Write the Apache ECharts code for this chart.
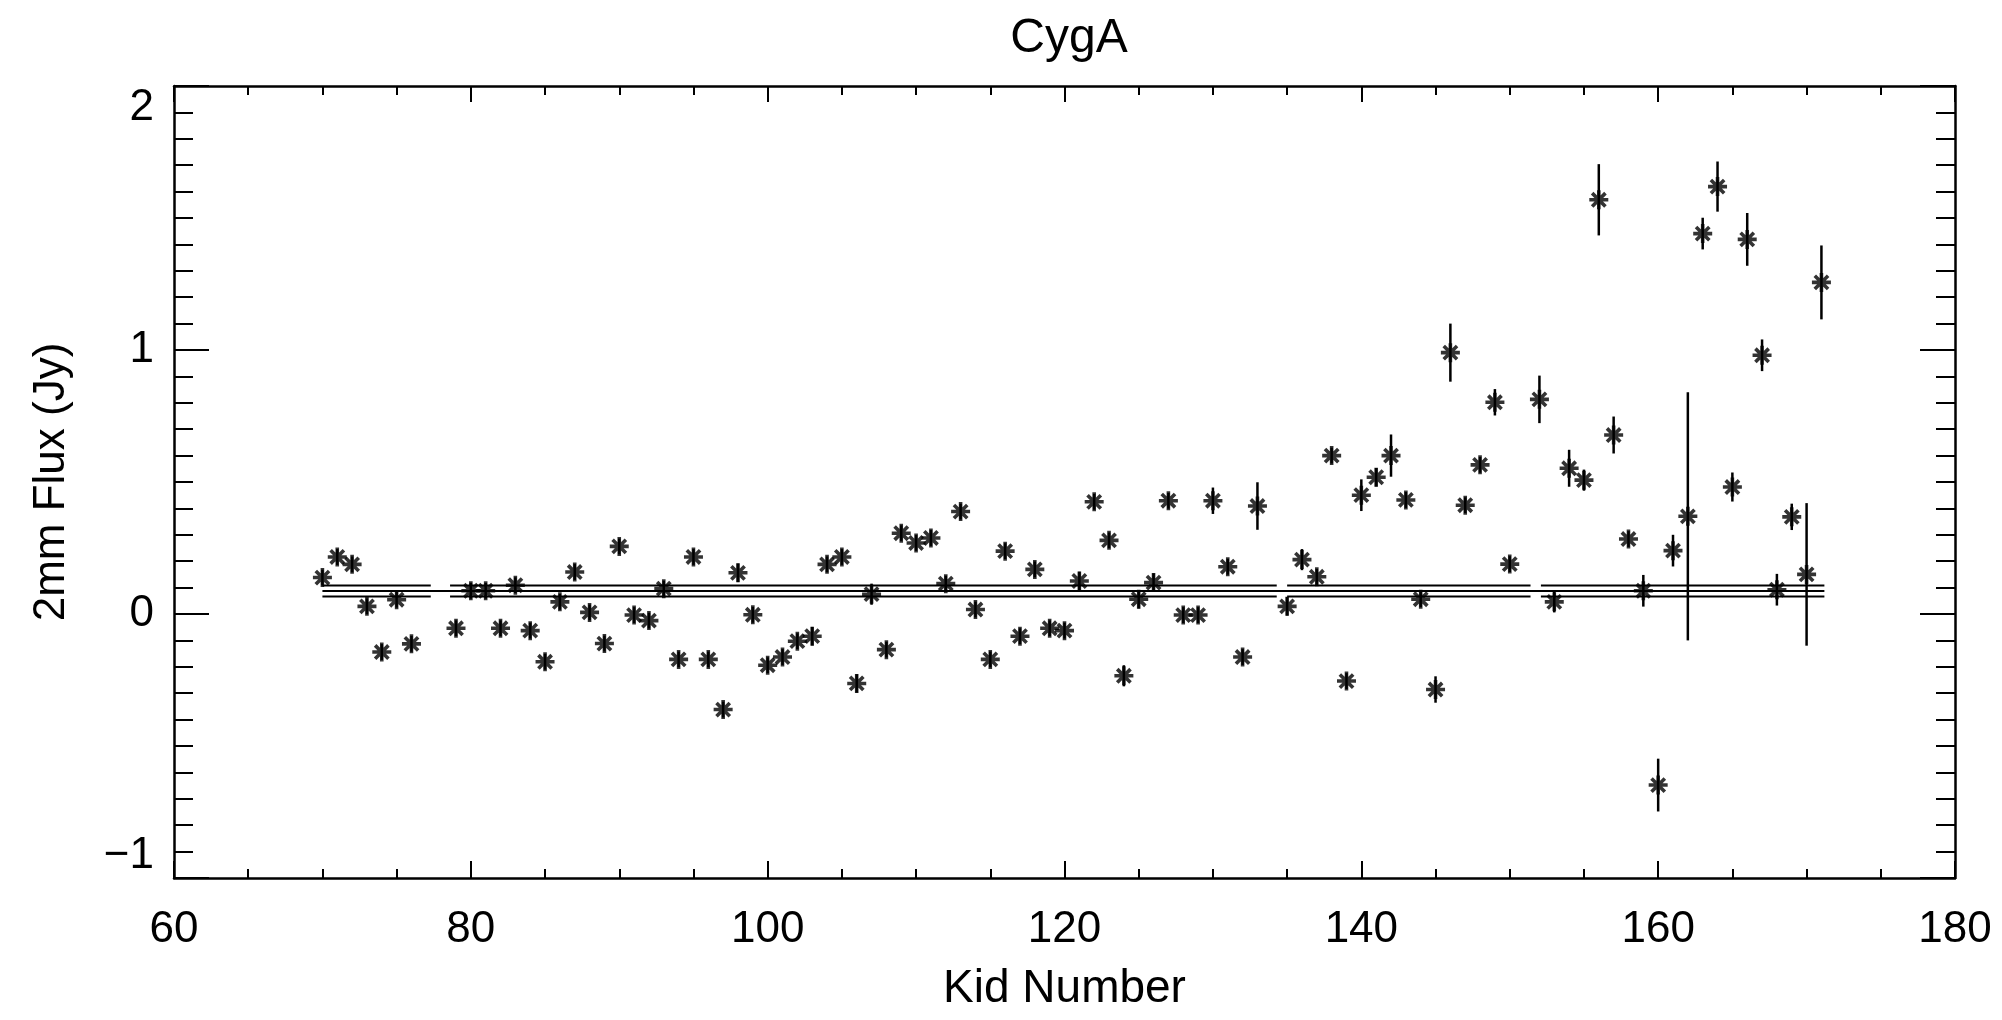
<!DOCTYPE html>
<html>
<head>
<meta charset="utf-8">
<script src="https://cdn.jsdelivr.net/npm/echarts@6/dist/echarts.min.js"></script>
<style>
  html, body { margin: 0; padding: 0; background: #fff; }
  #chart { width: 2002px; height: 1020px; }
</style>
</head>
<body>
<div id="chart"></div>
<script>
// ---- data ----
const kids = [70,71,72,73,74,75,76,
  79,80,81,82,83,84,85,86,87,88,89,90,91,92,93,94,95,96,97,98,99,100,
  101,102,103,104,105,106,107,108,109,110,111,112,113,114,115,116,117,118,119,120,
  121,122,123,124,125,126,127,128,129,130,131,132,133,
  135,136,137,138,139,140,141,142,143,144,145,146,147,148,149,150,
  152,153,154,155,156,157,158,159,160,161,162,163,164,165,166,167,168,169,170,171];
const flux = [0.138,0.216,0.188,0.029,-0.144,0.054,-0.113,
  -0.054,0.088,0.088,-0.054,0.109,-0.063,-0.181,0.046,0.159,0.006,-0.112,0.256,-0.004,-0.025,0.096,-0.172,0.216,-0.172,-0.362,0.156,-0.003,-0.194,
  -0.163,-0.103,-0.084,0.188,0.216,-0.263,0.075,-0.135,0.306,0.269,0.288,0.115,0.388,0.017,-0.172,0.238,-0.084,0.169,-0.054,-0.063,
  0.125,0.425,0.279,-0.234,0.056,0.119,0.429,-0.004,-0.004,0.429,0.179,-0.163,0.409,
  0.029,0.206,0.141,0.600,-0.254,0.450,0.518,0.600,0.432,0.056,-0.286,0.990,0.412,0.565,0.802,0.189,
  0.813,0.046,0.552,0.507,1.569,0.678,0.284,0.088,-0.648,0.240,0.370,1.441,1.619,0.481,1.419,0.980,0.092,0.368,0.150,1.256];
const fluxErr = [0.03,0.03,0.03,0.03,0.03,0.03,0.03,
  0.03,0.03,0.03,0.03,0.03,0.03,0.03,0.03,0.03,0.03,0.03,0.03,0.03,0.03,0.03,0.03,0.03,0.03,0.03,0.035,0.03,0.03,
  0.03,0.03,0.035,0.03,0.03,0.035,0.04,0.03,0.03,0.03,0.03,0.03,0.03,0.03,0.03,0.03,0.03,0.03,0.03,0.03,
  0.035,0.03,0.03,0.04,0.035,0.035,0.03,0.03,0.03,0.05,0.03,0.03,0.09,
  0.035,0.04,0.03,0.03,0.03,0.06,0.035,0.08,0.03,0.03,0.05,0.11,0.03,0.03,0.05,0.03,
  0.09,0.04,0.07,0.04,0.135,0.07,0.03,0.06,0.10,0.06,0.47,0.06,0.095,0.055,0.10,0.06,0.06,0.05,0.27,0.14];

// mean level and +/- 1 sigma lines
const meanLevel = 0.087;
const upperLevel = 0.108;
const lowerLevel = 0.066;
const meanSpan = [70, 171.2];
const bandSegments = [[70, 77.3], [78.6, 134.3], [135.0, 151.4], [152.1, 171.2]];

// axis ticks
const xTicks = { min: 60, max: 180, step: 20 };
const yTicks = { min: -1, max: 2, step: 1 };

// ---- build chart ----
const FONT = "'Liberation Sans', Arial, sans-serif";
const BLACK = '#000';

const points = kids.map((k, i) => [k, flux[i]]);
const errBars = kids.map((k, i) => [k, flux[i] - fluxErr[i], flux[i] + fluxErr[i]]);

const series = [];

function hline(name, xs, level) {
  return {
    name: name, type: 'line', xAxisIndex: 0, yAxisIndex: 0,
    data: [[xs[0], level], [xs[1], level]],
    symbol: 'none', silent: true,
    lineStyle: { color: BLACK, width: 2 }, z: 2
  };
}
series.push(hline('mean', meanSpan, meanLevel));
bandSegments.forEach((seg, i) => {
  series.push(hline('upper' + i, seg, upperLevel));
  series.push(hline('lower' + i, seg, lowerLevel));
});

series.push({
  name: 'err', type: 'custom', xAxisIndex: 0, yAxisIndex: 0,
  data: errBars,
  renderItem: function (params, api) {
    const p1 = api.coord([api.value(0), api.value(1)]);
    const p2 = api.coord([api.value(0), api.value(2)]);
    return {
      type: 'line',
      shape: { x1: p1[0], y1: p1[1], x2: p2[0], y2: p2[1] },
      style: { stroke: BLACK, lineWidth: 2.5 }
    };
  },
  z: 3
});

series.push({
  name: 'flux', type: 'scatter', xAxisIndex: 0, yAxisIndex: 0,
  data: points,
  symbol: 'path://M0,-10L0,10M-10,0L10,0M-7,-7L7,7M-7,7L7,-7',
  symbolSize: 19,
  itemStyle: { color: 'rgba(0,0,0,0)', borderColor: BLACK, borderWidth: 3.6 },
  z: 4
});

function xAx(pos, showLabel) {
  return {
    type: 'value', position: pos,
    min: xTicks.min, max: xTicks.max, interval: xTicks.step,
    axisLine: { show: true, onZero: false, lineStyle: { color: BLACK, width: 2.5 } },
    axisTick: { show: true, inside: true, length: pos === 'bottom' ? 17 : 16, lineStyle: { color: BLACK, width: 2 } },
    minorTick: { show: true, splitNumber: 4, length: 9, lineStyle: { color: BLACK, width: 2 } },
    splitLine: { show: false },
    axisLabel: {
      show: showLabel, color: BLACK, fontSize: 44, fontFamily: FONT, margin: 30
    },
    name: showLabel ? 'Kid Number' : '',
    nameLocation: 'middle', nameGap: 88,
    nameTextStyle: { color: BLACK, fontSize: 46, fontFamily: FONT }
  };
}
function yAx(pos, showLabel) {
  return {
    type: 'value', position: pos,
    min: yTicks.min, max: yTicks.max, interval: yTicks.step,
    axisLine: { show: true, onZero: false, lineStyle: { color: BLACK, width: 2.5 } },
    axisTick: { show: true, inside: true, length: 35, lineStyle: { color: BLACK, width: 2 } },
    minorTick: { show: true, splitNumber: 10, length: 19, lineStyle: { color: BLACK, width: 2 } },
    splitLine: { show: false },
    axisLabel: {
      show: showLabel, color: BLACK, fontSize: 44, fontFamily: FONT, margin: 20,
      verticalAlignMinLabel: 'bottom', verticalAlignMaxLabel: 'top',
      formatter: function (v) { return v < 0 ? '\u2212' + Math.abs(v) : String(v); }
    },
    name: showLabel ? '2mm Flux (Jy)' : '',
    nameLocation: 'middle', nameGap: 100, nameRotate: 90,
    nameTextStyle: { color: BLACK, fontSize: 44, fontFamily: FONT }
  };
}

const chart = echarts.init(document.getElementById('chart'), null, { renderer: 'canvas' });
chart.setOption({
  backgroundColor: '#fff',
  animation: false,
  title: {
    text: 'CygA', left: 1064, top: 10, textAlign: 'center',
    textStyle: { color: BLACK, fontSize: 48, fontWeight: 'normal', fontFamily: FONT }
  },
  grid: { left: 174, right: 47, top: 86, bottom: 142, containLabel: false },
  xAxis: [xAx('bottom', true), xAx('top', false)],
  yAxis: [yAx('left', true), yAx('right', false)],
  series: series
});
</script>
</body>
</html>
